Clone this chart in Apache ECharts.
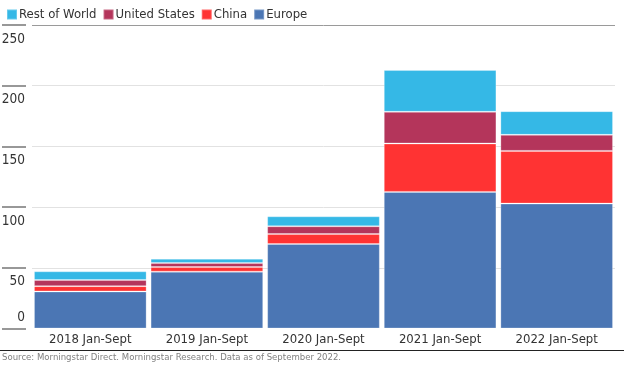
<!DOCTYPE html>
<html>
<head>
<meta charset="utf-8">
<script src="https://cdn.jsdelivr.net/npm/echarts@6/dist/echarts.min.js"></script>
<style>html,body{margin:0;padding:0;background:#fff}#c{width:624px;height:365px}</style>
</head>
<body>
<div id="c"></div>
<script>
var categories = ['2018 Jan-Sept', '2019 Jan-Sept', '2020 Jan-Sept', '2021 Jan-Sept', '2022 Jan-Sept'];
var europe = [30.5, 46.8, 69.6, 112.5, 102.9];
var china = [4.4, 3.8, 8.2, 39.9, 43.4];
var unitedStates = [5.0, 3.3, 6.4, 26.1, 13.2];
var restOfWorld = [7.2, 3.6, 8.2, 34.4, 19.5];
var yTicks = [0, 50, 100, 150, 200, 250];
var sourceNote = 'Source: Morningstar Direct. Morningstar Research. Data as of September 2022.';

var FONT = '"Liberation Sans Narrow", "Arial Narrow", "DejaVu Sans Condensed", sans-serif';
var chart = echarts.init(document.getElementById('c'), null, {renderer: 'canvas'});

function bar(name, data, color) {
  return {
    name: name, type: 'bar', stack: 'total', data: data,
    barCategoryGap: '3.4%',
    itemStyle: {color: color, borderColor: 'rgba(255,255,255,0.25)', borderWidth: 1},
    emphasis: {disabled: true}
  };
}

chart.setOption({
  animation: false,
  textStyle: {fontFamily: FONT},
  title: {
    text: sourceNote, left: 2, top: 353, padding: 0,
    textStyle: {fontFamily: FONT, fontSize: 9.5, fontWeight: 'normal', color: '#808080'}
  },
  legend: {
    left: 1, top: 3, itemWidth: 10, itemHeight: 10, itemGap: 6, icon: 'rect',
    data: ['Rest of World', 'United States', 'China', 'Europe'],
    textStyle: {fontFamily: FONT, fontSize: 13, color: '#333', padding: [0, 0, 0, -3]}
  },
  grid: {left: 32, right: 9, top: 25, bottom: 36.5, outerBoundsMode: 'none', containLabel: false},
  xAxis: {
    type: 'category', data: categories,
    axisLine: {show: false}, axisTick: {show: false},
    axisLabel: {fontFamily: FONT, fontSize: 13, color: '#333', margin: 5, interval: 0}
  },
  yAxis: [{
    type: 'value', min: yTicks[0], max: yTicks[yTicks.length - 1], interval: 50,
    position: 'left', offset: 6,
    axisLine: {show: false},
    axisTick: {show: true, length: 24, lineStyle: {color: '#777', width: 1.5}},
    splitLine: {show: true, lineStyle: {color: ['#ffffff', '#e2e2e2', '#e2e2e2', '#e2e2e2', '#e2e2e2', '#9a9a9a'], width: 1}},
    axisLabel: {
      fontFamily: FONT, fontSize: 13.5, color: '#333', margin: 1,
      verticalAlign: 'top', padding: [7, 0, 0, 0],
      formatter: function (v) { return v === 0 ? '' : String(v); }
    }
  }, {
    type: 'value', min: yTicks[0], max: yTicks[yTicks.length - 1], interval: 50,
    position: 'left', offset: 6,
    axisLine: {show: false}, axisTick: {show: false}, splitLine: {show: false},
    axisLabel: {
      fontFamily: FONT, fontSize: 13.5, color: '#333', margin: 1,
      verticalAlign: 'bottom', padding: [0, 0, 4, 0],
      formatter: function (v) { return v === 0 ? '0' : ''; }
    }
  }],
  graphic: [{
    type: 'line', shape: {x1: 0, y1: 350.5, x2: 624, y2: 350.5},
    style: {stroke: '#222', lineWidth: 1}
  }],
  series: [
    bar('Europe', europe, '#4b76b4'),
    bar('China', china, '#ff3333'),
    bar('United States', unitedStates, '#b4355b'),
    bar('Rest of World', restOfWorld, '#35b8e6')
  ]
});
</script>
</body>
</html>
